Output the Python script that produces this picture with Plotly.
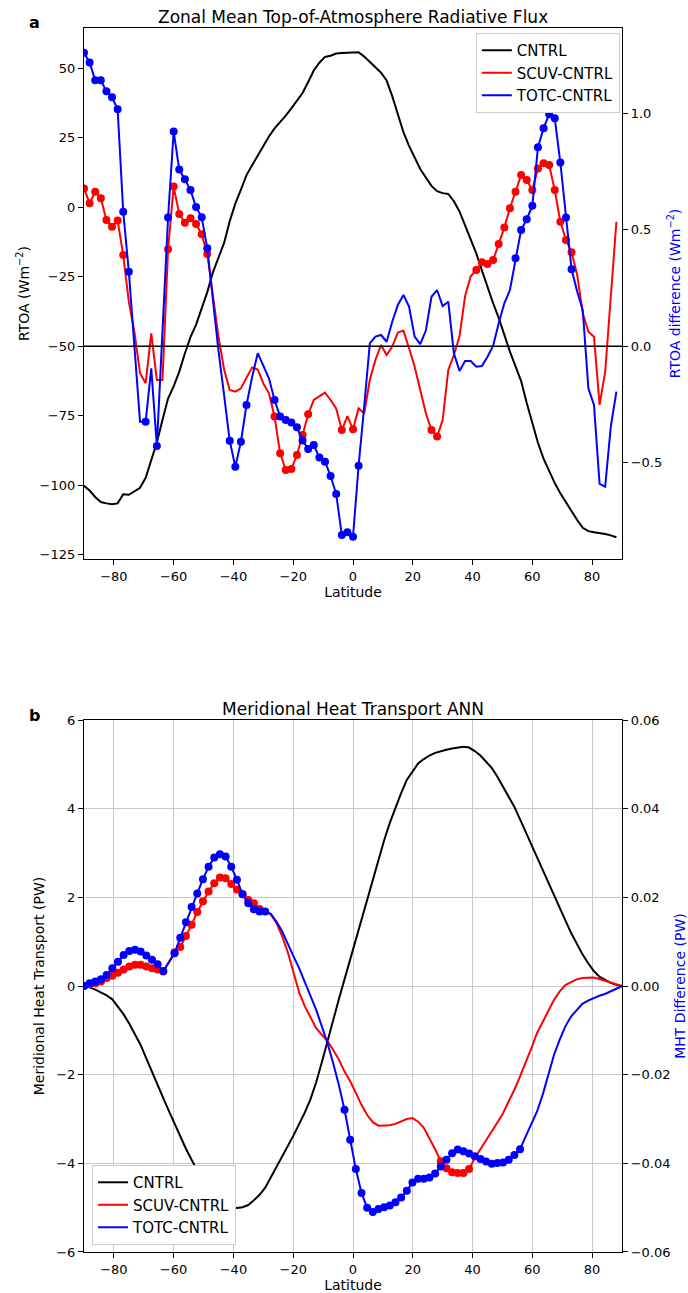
import numpy as np
import plotly.graph_objects as go

# ---------------- data ----------------
lat_a = np.linspace(-90, 88.125, 96)   # panel a latitude grid
lat_b = np.linspace(-90, 90, 96)       # panel b latitude grid

rtoa_cntrl = [-100.2, -101.9, -104.2, -106.0, -106.5, -106.8, -106.5, -103.2, -103.4, -102.1,
              -100.9, -97.3, -90.9, -84.6, -76.5, -68.8, -64.4, -59.1, -52.6, -46.7,
              -42.2, -36.5, -30.5, -23.4, -18.2, -12.8, -5.0, 1.3, 6.4, 11.6,
              15.1, 18.6, 22.3, 25.5, 28.4, 30.6, 33.0, 35.6, 38.3, 41.1,
              45.1, 49.2, 52.0, 54.1, 54.5, 55.3, 55.5, 55.6, 55.7, 55.8,
              54.2, 52.4, 50.4, 48.4, 45.6, 40.0, 33.6, 27.0, 22.1, 17.7,
              13.8, 10.7, 7.7, 5.8, 5.1, 4.8, 2.2, -1.5, -6.7, -11.5,
              -16.6, -22.7, -29.0, -34.5, -39.8, -46.0, -51.9, -57.2, -62.5, -70.4,
              -77.2, -84.7, -90.4, -95.0, -99.2, -102.9, -106.2, -109.5, -112.5, -115.3,
              -116.5, -116.9, -117.1, -117.5, -118.0, -118.7]

rtoa_scuv = [0.677, 0.613, 0.663, 0.635, 0.542, 0.513, 0.539, 0.391, 0.19, 0.06,
             -0.116, -0.159, 0.055, -0.145, -0.145, 0.416, 0.685, 0.567, 0.530, 0.549,
             0.524, 0.480, 0.396, 0.21, 0.04, -0.10, -0.188, -0.195, -0.181, -0.135,
             -0.091, -0.10, -0.16, -0.202, -0.302, -0.460, -0.531, -0.527, -0.467, -0.381,
             -0.292, -0.231, -0.214, -0.199, -0.231, -0.267, -0.360, -0.300, -0.357, -0.267,
             -0.288, -0.145, -0.059, 0.005, -0.038, -0.002, 0.058, 0.067, -0.009, -0.088,
             -0.188, -0.288, -0.360, -0.388, -0.317, -0.102, -0.038, 0.041, 0.215, 0.30,
             0.327, 0.360, 0.353, 0.370, 0.439, 0.509, 0.592, 0.663, 0.735, 0.713,
             0.670, 0.763, 0.785, 0.778, 0.670, 0.534, 0.456, 0.403, 0.306, 0.141,
             0.062, 0.041, -0.252, -0.109, 0.21, 0.534]

rtoa_totc = [1.260, 1.218, 1.141, 1.141, 1.094, 1.068, 1.017, 0.577, 0.320, 0.00,
             -0.324, -0.324, -0.095, -0.428, 0.06, 0.552, 0.921, 0.758, 0.716, 0.670,
             0.597, 0.553, 0.420, 0.20, -0.02, -0.21, -0.406, -0.517, -0.410, -0.252,
             -0.132, -0.030, -0.086, -0.138, -0.231, -0.302, -0.317, -0.328, -0.348, -0.405,
             -0.441, -0.424, -0.478, -0.496, -0.557, -0.634, -0.810, -0.799, -0.818, -0.513,
             -0.258, 0.012, 0.041, 0.048, 0.019, 0.105, 0.177, 0.220, 0.170, 0.041,
             0.009, 0.067, 0.212, 0.241, 0.172, 0.191, -0.030, -0.106, -0.064, -0.064,
             -0.088, -0.085, -0.045, 0.001, 0.098, 0.184, 0.241, 0.377, 0.499, 0.545,
             0.603, 0.854, 0.935, 0.995, 0.978, 0.788, 0.552, 0.330, 0.235, 0.155,
             -0.181, -0.252, -0.591, -0.603, -0.345, -0.195]

# indices of statistically significant points (drawn with markers)
sig_a_scuv = [0, 1, 2, 3, 4, 5, 6, 7, 15, 16, 17, 18, 19, 20, 21, 22,
              34, 35, 36, 37, 38, 39, 40, 46, 48, 62, 63,
              70, 71, 72, 73, 74, 75, 76, 77, 78, 79, 80, 81, 82, 83, 84, 85, 86, 87]
sig_a_totc = [0, 1, 2, 3, 4, 5, 6, 7, 8, 11, 13, 15, 16, 17, 18, 19, 20, 21, 22,
              26, 27, 28, 29, 34, 35, 36, 37, 38, 39, 40, 41, 42, 43, 44, 45, 46, 47, 48, 49,
              77, 78, 79, 80, 81, 82, 83, 84, 85, 86, 87]

mht_cntrl = [0.0, -0.03, -0.08, -0.14, -0.21, -0.30, -0.46, -0.64, -0.85, -1.08,
             -1.33, -1.63, -1.94, -2.23, -2.53, -2.82, -3.11, -3.39, -3.67, -3.92,
             -4.17, -4.39, -4.58, -4.75, -4.88, -4.96, -4.99, -5.01, -4.99, -4.94,
             -4.83, -4.71, -4.55, -4.32, -4.07, -3.83, -3.60, -3.37, -3.11, -2.85,
             -2.55, -2.17, -1.72, -1.23, -0.77, -0.30, 0.15, 0.60, 1.05, 1.49,
             1.94, 2.41, 2.87, 3.29, 3.68, 4.04, 4.35, 4.65, 4.85, 5.02,
             5.12, 5.20, 5.26, 5.30, 5.33, 5.36, 5.38, 5.40, 5.38, 5.30,
             5.20, 5.07, 4.92, 4.72, 4.50, 4.27, 4.04, 3.76, 3.47, 3.18,
             2.90, 2.60, 2.31, 2.02, 1.75, 1.48, 1.20, 0.95, 0.72, 0.52,
             0.34, 0.21, 0.13, 0.07, 0.03, 0.0]

mht_scuv = [0.0, 0.0004, 0.00065, 0.0010, 0.0018, 0.0023, 0.0030, 0.0037, 0.0044, 0.0048,
            0.0048, 0.0044, 0.0040, 0.0037, 0.0033, 0.0054, 0.0076, 0.0088, 0.0113, 0.0138,
            0.0167, 0.0191, 0.0213, 0.0232, 0.0245, 0.0243, 0.0230, 0.0218, 0.0207, 0.0194,
            0.0187, 0.0174, 0.0168, 0.0161, 0.0142, 0.0112, 0.0076, 0.0030, -0.0015, -0.0046,
            -0.0072, -0.0095, -0.0110, -0.0124, -0.0144, -0.0166, -0.0193, -0.0215, -0.0241, -0.0268,
            -0.0291, -0.0307, -0.0315, -0.0315, -0.0314, -0.0311, -0.0306, -0.0300, -0.0298, -0.0306,
            -0.0320, -0.0343, -0.0368, -0.0395, -0.0411, -0.0420, -0.0422, -0.0422, -0.0413, -0.0388,
            -0.0369, -0.0349, -0.0328, -0.0308, -0.0287, -0.0260, -0.0234, -0.0204, -0.0174, -0.0140,
            -0.0106, -0.0080, -0.0054, -0.0031, -0.0012, 0.0002, 0.0009, 0.0015, 0.0018, 0.0019,
            0.0019, 0.0016, 0.0012, 0.0008, 0.0004, 0.0]

mht_totc = [0.0, 0.00065, 0.0010, 0.00155, 0.0025, 0.0040, 0.0055, 0.0070, 0.0079, 0.0082,
            0.0078, 0.0069, 0.0059, 0.0049, 0.0034, 0.0054, 0.0074, 0.0109, 0.0144, 0.0178,
            0.0209, 0.0241, 0.0269, 0.0290, 0.0297, 0.0292, 0.0269, 0.0240, 0.0207, 0.0187,
            0.0173, 0.0168, 0.0168, 0.0163, 0.0145, 0.0123, 0.0093, 0.0067, 0.0040, 0.0010,
            -0.0020, -0.0054, -0.0091, -0.0129, -0.0174, -0.0223, -0.0279, -0.0347, -0.0413, -0.0467,
            -0.0500, -0.0510, -0.0503, -0.0499, -0.0495, -0.0488, -0.0477, -0.0462, -0.0443, -0.0435,
            -0.0435, -0.0432, -0.0423, -0.0407, -0.0392, -0.0377, -0.0369, -0.0373, -0.0378, -0.0384,
            -0.0390, -0.0396, -0.0401, -0.0399, -0.0398, -0.0392, -0.0381, -0.0368, -0.0339, -0.0309,
            -0.0283, -0.0245, -0.0200, -0.0155, -0.0121, -0.0091, -0.0069, -0.0054, -0.0040, -0.0033,
            -0.0027, -0.0022, -0.0018, -0.0012, -0.0006, 0.0]

sig_b_scuv = list(range(0, 15)) + list(range(16, 32)) + list(range(63, 69))
sig_b_totc = list(range(0, 15)) + list(range(16, 33)) + list(range(46, 78))

lat_ticks = [-80, -60, -40, -20, 0, 20, 40, 60, 80]
rtoa_ticks = [-125, -100, -75, -50, -25, 0, 25, 50]
rtoa_diff_ticks = [-0.5, 0.0, 0.5, 1.0]
mht_ticks = [-6, -4, -2, 0, 2, 4, 6]
mht_diff_ticks = [-0.06, -0.04, -0.02, 0.0, 0.02, 0.04, 0.06]


def masked(vals, idx):
    s = set(idx)
    return [v if i in s else None for i, v in enumerate(vals)]


FONT = "DejaVu Sans"
BLACK, RED, BLUE = "#000000", "#ff0000", "#0000ff"
LW = 2
MS = 8

fig = go.Figure()

# ---- panel a ----
fig.add_trace(go.Scatter(x=lat_a, y=rtoa_cntrl, mode="lines", name="CNTRL",
                         line=dict(color=BLACK, width=LW), xaxis="x", yaxis="y", legend="legend"))
fig.add_trace(go.Scatter(x=lat_a, y=rtoa_scuv, mode="lines", name="SCUV-CNTRL",
                         line=dict(color=RED, width=LW), xaxis="x", yaxis="y2", legend="legend"))
fig.add_trace(go.Scatter(x=lat_a, y=masked(rtoa_scuv, sig_a_scuv), mode="markers", showlegend=False,
                         marker=dict(color=RED, size=MS), xaxis="x", yaxis="y2"))
fig.add_trace(go.Scatter(x=lat_a, y=rtoa_totc, mode="lines", name="TOTC-CNTRL",
                         line=dict(color=BLUE, width=LW), xaxis="x", yaxis="y2", legend="legend"))
fig.add_trace(go.Scatter(x=lat_a, y=masked(rtoa_totc, sig_a_totc), mode="markers", showlegend=False,
                         marker=dict(color=BLUE, size=MS), xaxis="x", yaxis="y2"))

# ---- panel b ----
fig.add_trace(go.Scatter(x=lat_b, y=mht_cntrl, mode="lines", name="CNTRL",
                         line=dict(color=BLACK, width=LW), xaxis="x2", yaxis="y3", legend="legend2"))
fig.add_trace(go.Scatter(x=lat_b, y=mht_scuv, mode="lines", name="SCUV-CNTRL",
                         line=dict(color=RED, width=LW), xaxis="x2", yaxis="y4", legend="legend2"))
fig.add_trace(go.Scatter(x=lat_b, y=masked(mht_scuv, sig_b_scuv), mode="markers", showlegend=False,
                         marker=dict(color=RED, size=MS), xaxis="x2", yaxis="y4"))
fig.add_trace(go.Scatter(x=lat_b, y=mht_totc, mode="lines", name="TOTC-CNTRL",
                         line=dict(color=BLUE, width=LW), xaxis="x2", yaxis="y4", legend="legend2"))
fig.add_trace(go.Scatter(x=lat_b, y=masked(mht_totc, sig_b_totc), mode="markers", showlegend=False,
                         marker=dict(color=BLUE, size=MS), xaxis="x2", yaxis="y4"))

tickfont = dict(family=FONT, size=13, color="black")
axis_common = dict(showline=True, linecolor="black", linewidth=1.2, ticks="outside", ticklen=5,
                   tickwidth=1.2, tickcolor="black", tickfont=tickfont, zeroline=False,
                   automargin=False)

dom_a = [0.5662, 1.0]
dom_b = [0.0, 0.4346]

fig.update_layout(
    width=688, height=1293,
    margin=dict(l=84, r=66, t=28, b=41),
    paper_bgcolor="white", plot_bgcolor="white",
    template="none",
    font=dict(family=FONT, size=13, color="black"),
    xaxis=dict(domain=[0, 1], anchor="y", range=[-90, 90], tickvals=lat_ticks, mirror=True,
               showgrid=False, title=dict(text="Latitude", font=dict(size=14), standoff=4), **axis_common),
    yaxis=dict(domain=dom_a, anchor="x", range=[-126.5, 64.5], tickvals=rtoa_ticks, mirror=True,
               showgrid=False, title=dict(text="RTOA (Wm<sup>−2</sup>)", font=dict(size=14), standoff=6),
               **axis_common),
    yaxis2=dict(overlaying="y", side="right", anchor="x", range=[-0.9133, 1.3657],
                tickvals=rtoa_diff_ticks, tickformat=".1f", showgrid=False,
                title=dict(text="RTOA difference (Wm<sup>−2</sup>)", font=dict(size=14, color=BLUE), standoff=8),
                **axis_common),
    xaxis2=dict(domain=[0, 1], anchor="y3", range=[-90, 90], tickvals=lat_ticks, mirror=True,
                showgrid=True, gridcolor="#c8c8c8", gridwidth=1,
                title=dict(text="Latitude", font=dict(size=14), standoff=4), **axis_common),
    yaxis3=dict(domain=dom_b, anchor="x2", range=[-6, 6], tickvals=mht_ticks, mirror=True,
                showgrid=True, gridcolor="#c8c8c8", gridwidth=1,
                title=dict(text="Meridional Heat Transport (PW)", font=dict(size=14), standoff=8),
                **axis_common),
    yaxis4=dict(overlaying="y3", side="right", anchor="x2", range=[-0.06, 0.06],
                tickvals=mht_diff_ticks, tickformat=".2f", showgrid=False,
                title=dict(text="MHT Difference (PW)", font=dict(size=14, color=BLUE), standoff=6),
                **axis_common),
    legend=dict(x=0.996, xanchor="right", y=0.9959, yanchor="top", bgcolor="white",
                bordercolor="#cccccc", borderwidth=1, font=dict(family=FONT, size=15)),
    legend2=dict(x=0.015, xanchor="left", y=0.0057, yanchor="bottom", bgcolor="white",
                 bordercolor="#cccccc", borderwidth=1, font=dict(family=FONT, size=15)),
    shapes=[dict(type="line", xref="x domain", x0=0, x1=1, yref="y2", y0=0, y1=0,
                 line=dict(color="black", width=1.5))],
    annotations=[
        dict(text="<b>a</b>", x=-0.0911, y=1.0049, xref="paper", yref="paper", showarrow=False,
             font=dict(size=16), xanchor="center", yanchor="middle"),
        dict(text="<b>b</b>", x=-0.0911, y=0.4387, xref="paper", yref="paper", showarrow=False,
             font=dict(size=16), xanchor="center", yanchor="middle"),
        dict(text="Zonal Mean Top-of-Atmosphere Radiative Flux", x=0.5, y=1.009, xref="paper",
             yref="paper", showarrow=False, font=dict(size=17), xanchor="center", yanchor="middle"),
        dict(text="Meridional Heat Transport ANN", x=0.5, y=0.4436, xref="paper",
             yref="paper", showarrow=False, font=dict(size=17), xanchor="center", yanchor="middle"),
    ],
)

fig.write_html("out.html")
